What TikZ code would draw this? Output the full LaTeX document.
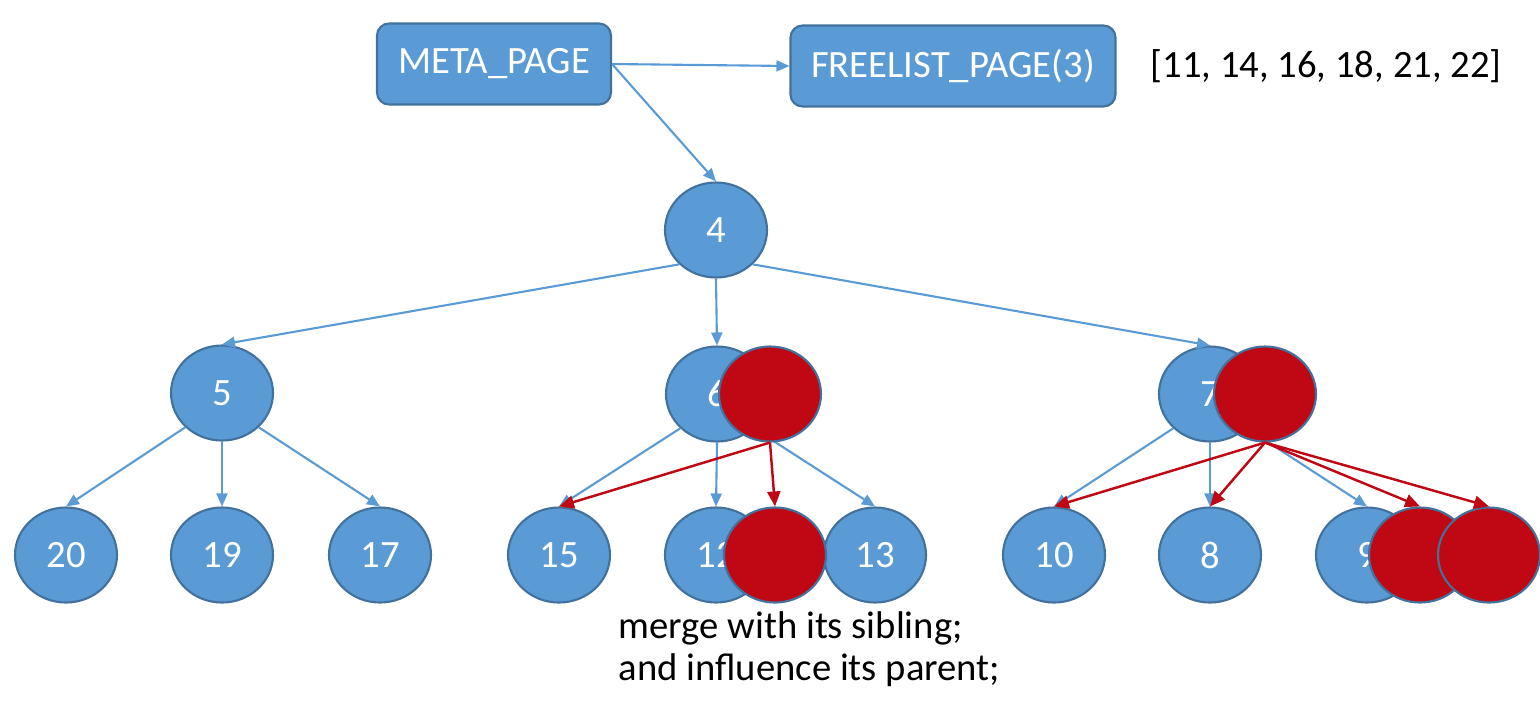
\documentclass[tikz,border=0pt]{standalone}
\usepackage{fontspec}
\setmainfont{Carlito}
\usetikzlibrary{arrows.meta,shapes.geometric}

\definecolor{pageblue}{RGB}{91,155,213}
\definecolor{lineblue}{RGB}{65,113,156}
\definecolor{mergered}{RGB}{192,8,20}

\tikzset{
  page/.style={draw=lineblue, line width=0.6pt, fill=pageblue, rounded corners=1.2mm,
    text=white, font=\fontsize{11}{13}\selectfont, minimum height=8.1mm, inner sep=0},
  bnode/.style={ellipse, draw=lineblue, line width=0.6pt, fill=pageblue, text=white,
    minimum width=10.2mm, minimum height=9.5mm, inner sep=0, font=\fontsize{11}{13}\selectfont},
  rnode/.style={bnode, fill=mergered},
  bedge/.style={draw=pageblue, line width=0.6pt, -{Triangle[length=1.3mm,width=1.1mm]}},
  redge/.style={draw=mergered, line width=0.7pt, -{Triangle[length=1.5mm,width=1.3mm]}},
}

\begin{document}
\begin{tikzpicture}[x=0.1mm,y=-0.1mm]
            \useasboundingbox (0,0) rectangle (1540,700);

            % Draw meta and freelist pages
            \node[page, minimum width=23.4mm] (meta) at (494,64) {META\_PAGE};
            \node[page, minimum width=32.5mm] (free) at (953,66) {FREELIST\_PAGE(3)};
            \node[anchor=west, inner sep=0, font=\fontsize{11}{13}\selectfont] (freeids) at (1150,66) {[11, 14, 16, 18, 21, 22]};

            % Draw tree nodes
            \node[bnode] (n4) at (716,230) {4};
            \node[bnode] (n5) at (222,393) {5};
            \node[bnode] (n6) at (717,394) {6};
            \node[bnode] (n7) at (1210,394) {7};
            \node[bnode] (n20) at (66,555) {20};
            \node[bnode] (n19) at (222,555) {19};
            \node[bnode] (n17) at (380,555) {17};
            \node[bnode] (n15) at (559,555) {15};
            \node[bnode] (n12) at (716,555) {12};
            \node[bnode] (n13) at (875,555) {13};
            \node[bnode] (n10) at (1054,555) {10};
            \node[bnode] (n8) at (1210,555) {8};
            \node[bnode] (n9) at (1367,555) {9};

            % Draw blue links
            \draw[bedge] (meta.east) -- (free.west);
            \draw[bedge] (meta.east) -- (n4.north);
            \draw[bedge] (n4.south west) -- (n5.north);
            \draw[bedge] (n4.south) -- (n6.north);
            \draw[bedge] (n4.south east) -- (n7.north);
            \draw[bedge] (n5.south west) -- (n20.north);
            \draw[bedge] (n5.south) -- (n19.north);
            \draw[bedge] (n5.south east) -- (n17.north);
            \draw[bedge] (n6.south west) -- (n15.north);
            \draw[bedge] (n6.south) -- (n12.north);
            \draw[bedge] (n6.south east) -- (n13.north);
            \draw[bedge] (n7.south west) -- (n10.north);
            \draw[bedge] (n7.south) -- (n8.north);
            \draw[bedge] (n7.south east) -- (n9.north);

            % Draw merged pages
            \node[rnode] (r6) at (770,394) {};
            \node[rnode] (r7) at (1265,394) {};
            \node[rnode] (r12) at (775,555) {};
            \node[rnode] (r9a) at (1420,555) {};
            \node[rnode] (r9b) at (1489,555) {};

            % Draw red links
            \draw[redge] (r6.south) -- (n15.north);
            \draw[redge] (r6.south) -- (r12.north);
            \draw[redge] (r7.south) -- (n10.north);
            \draw[redge] (r7.south) -- (n8.north);
            \draw[redge] (r7.south) -- (r9a.north);
            \draw[redge] (r7.south) -- (r9b.north);

            % Draw note
            \node[anchor=base west, inner sep=0, font=\fontsize{11}{13}\selectfont] (note1) at (618,638) {merge with its sibling;};
            \node[anchor=base west, inner sep=0, font=\fontsize{11}{13}\selectfont] (note2) at (618,680) {and influence its parent;};
\end{tikzpicture}
\end{document}
